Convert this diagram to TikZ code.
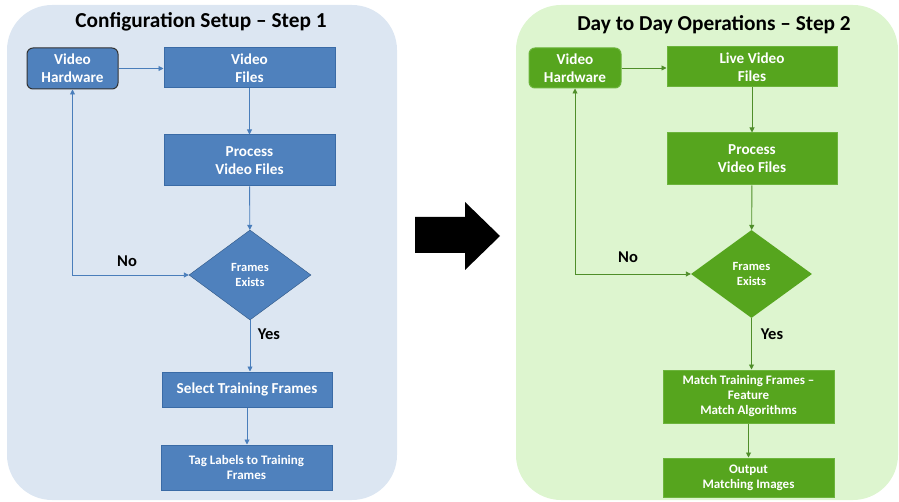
\documentclass[tikz,border=0pt]{standalone}
\usepackage{fontspec}
\setmainfont{Carlito}
\usetikzlibrary{shapes.geometric,arrows.meta}
\definecolor{panelblue}{HTML}{DCE6F2}
\definecolor{panelgreen}{HTML}{DDF5CF}
\definecolor{boxblue}{HTML}{4F81BD}
\definecolor{edgeblue}{HTML}{3A6BA6}
\definecolor{lineblue}{HTML}{4A7EBB}
\definecolor{boxgreen}{HTML}{56A51E}
\definecolor{edgegreen}{HTML}{6CB43C}
\definecolor{linegreen}{HTML}{4F8E2A}
\begin{document}
\begin{tikzpicture}[x=1pt,y=-1pt,
            panel/.style={rounded corners=45pt},
            title/.style={font=\fontsize{21.3}{24}\selectfont\bfseries, black},
            box/.style={rectangle, text=white, align=center, inner sep=1pt,
                font=\fontsize{15.2}{18}\selectfont\bfseries},
            smallbox/.style={box, font=\fontsize{13}{15}\selectfont\bfseries},
            bluebox/.style={box, fill=boxblue, draw=edgeblue, line width=1pt},
            greenbox/.style={box, fill=boxgreen, draw=edgegreen, line width=1pt},
            decision/.style={diamond, text=white, align=center, inner sep=0pt,
                minimum width=122pt, minimum height=90pt,
                font=\fontsize{12.5}{15}\selectfont\bfseries},
            answer/.style={font=\fontsize{16.5}{18}\selectfont\bfseries, black},
            flow/.style={-{Triangle[length=5pt,width=5pt]}, line width=0.9pt},
            loop/.style={{Triangle[length=5pt,width=5pt]}-{Triangle[length=5pt,width=5pt]}, line width=0.9pt}]
            \useasboundingbox (0,0) rectangle (899,502);
            % panels
            \fill[panelblue, panel] (7,5) rectangle (397,500);
            \fill[panelgreen, panel] (516,5) rectangle (898,500);
            % big arrow
            \fill[black] (415,217) -- (465,217) -- (465,202) -- (500,236)
                -- (465,270) -- (465,253) -- (415,253) -- cycle;

            % step 1
            \node[title] (t1) at (201,22) {Configuration Setup -- Step 1};
            \node[bluebox, rounded corners=6pt, draw=black!80, minimum width=91pt, minimum height=41pt] (vh1) at (72.5,68.5) {Video\\Hardware};
            \node[bluebox, minimum width=171pt, minimum height=40pt] (vf1) at (249.5,68) {Video\\Files};
            \node[bluebox, minimum width=171pt, minimum height=51pt] (pv1) at (249.5,160.5) {Process\\Video Files};
            \node[decision, fill=boxblue, draw=edgeblue!80!black] (fe1) at (250,275) {Frames\\Exists};
            \node[bluebox, minimum width=170pt, minimum height=35pt] (st1) at (247,389.5) {Select Training Frames};
            \node[bluebox, smallbox, minimum width=171pt, minimum height=45pt] (tl1) at (246.5,467.5) {Tag Labels to Training\\Frames};
            \node[answer] (no1) at (127,261) {No};
            \node[answer] (yes1) at (269,334) {Yes};

            \draw[flow, lineblue] (vh1.east) -- (vf1.west |- vh1.east);
            \draw[flow, lineblue] (vf1) -- (pv1);
            \draw[flow, lineblue] (pv1) -- (fe1);
            \draw[flow, lineblue] (fe1.south) -- (fe1.south |- st1.north);
            \draw[flow, lineblue] (st1) -- (st1 |- tl1.north);
            \draw[loop, lineblue] (vh1.south) |- (fe1.west);

            % step 2
            \node[title] (t2) at (714,25) {Day to Day Operations -- Step 2};
            \node[greenbox, rounded corners=6pt, minimum width=92pt, minimum height=40pt] (vh2) at (575,68) {Video\\Hardware};
            \node[greenbox, minimum width=170pt, minimum height=40pt] (lv2) at (752,67) {Live Video\\Files};
            \node[greenbox, minimum width=170pt, minimum height=52pt] (pv2) at (752,159) {Process\\Video Files};
            \node[decision, fill=boxgreen, minimum width=121pt, minimum height=88pt] (fe2) at (751.5,274) {Frames\\Exists};
            \node[greenbox, smallbox, minimum width=171pt, minimum height=53pt] (mt2) at (748.5,396.5) {Match Training Frames --\\Feature\\Match Algorithms};
            \node[greenbox, smallbox, minimum width=171pt, minimum height=39pt] (om2) at (748.5,477.5) {Output\\Matching Images};
            \node[answer] (no2) at (628,257) {No};
            \node[answer] (yes2) at (772,334) {Yes};

            \draw[flow, linegreen] (vh2.east) -- (lv2.west |- vh2.east);
            \draw[flow, linegreen] (lv2) -- (pv2);
            \draw[flow, linegreen] (pv2) -- (fe2);
            \draw[flow, linegreen] (fe2.south) -- (fe2.south |- mt2.north);
            \draw[flow, linegreen] (mt2) -- (om2);
            \draw[loop, linegreen] (vh2.south) |- (fe2.west);
        \end{tikzpicture}
\end{document}
